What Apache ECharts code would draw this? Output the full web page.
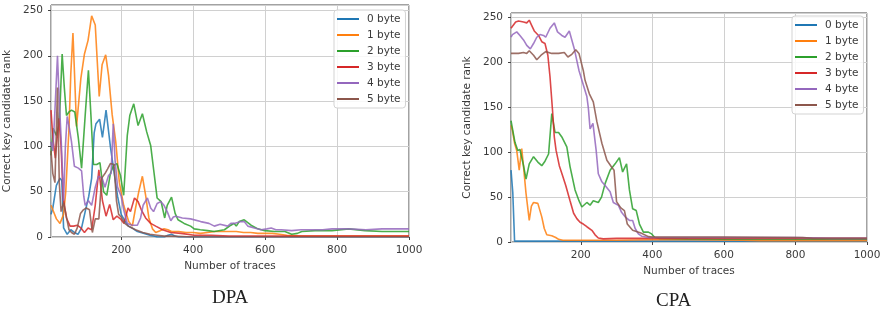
<!DOCTYPE html>
<html>
<head>
<meta charset="utf-8">
<script src="https://cdn.jsdelivr.net/npm/echarts@6/dist/echarts.min.js"></script>
<style>
  html, body { margin: 0; padding: 0; background: #fff; }
  #main { width: 884px; height: 323px; }
</style>
</head>
<body>
<div id="main"></div>
<script>
// series names and colours (matplotlib tab10)
var names = ['0 byte', '1 byte', '2 byte', '3 byte', '4 byte', '5 byte'];
var colors = ['#1f77b4', '#ff7f0e', '#2ca02c', '#d62728', '#9467bd', '#8c564b'];
var xTicks = [200, 400, 600, 800, 1000];
var yTicks = [0, 50, 100, 150, 200, 250];

// DPA: [number of traces, rank]
var dpa0 = [[5,25],[10,32],[20,57],[30,65],[35,62],[40,10],[50,3],[60,8],[70,5],[80,3],[90,10],[100,28],[110,45],[118,65],[125,115],[130,125],[140,130],[148,110],[158,140],[170,100],[180,72],[190,45],[200,25],[210,18],[220,12],[230,10],[245,6],[264,4],[280,2],[291,1],[300,0],[320,0],[330,2],[340,3],[350,1],[360,0],[1000,0]];
var dpa1 = [[5,35],[10,30],[20,20],[30,15],[40,25],[46,50],[55,120],[60,180],[66,225],[76,122],[88,175],[98,202],[108,217],[118,244],[128,234],[139,155],[147,190],[157,201],[165,178],[175,135],[185,105],[195,60],[207,35],[221,17],[231,12],[240,32],[249,50],[259,67],[268,46],[277,21],[287,9],[296,5],[308,7],[319,9],[330,8],[340,6],[360,6],[380,5],[400,5],[420,4],[440,5],[460,6],[480,6],[500,6],[520,6],[540,5],[560,5],[580,4],[600,4],[620,4],[640,3],[660,2],[700,1],[800,1],[1000,1]];
var dpa2 = [[5,90],[11,120],[20,112],[28,125],[36,202],[42,165],[48,134],[55,138],[62,140],[71,138],[81,109],[90,76],[100,134],[109,184],[116,134],[123,80],[132,80],[141,82],[151,50],[160,46],[170,70],[179,79],[188,81],[198,68],[207,46],[217,112],[224,134],[235,147],[247,123],[259,136],[271,116],[282,101],[291,72],[300,43],[311,39],[321,21],[328,35],[340,44],[350,26],[358,19],[375,15],[393,12],[403,9],[420,8],[440,7],[459,6],[487,8],[505,13],[514,15],[520,12],[528,17],[542,19],[561,13],[580,9],[599,7],[627,6],[655,6],[674,3],[690,4],[702,6],[739,7],[786,7],[832,9],[878,7],[925,6],[1000,6]];
var dpa3 = [[5,140],[10,110],[17,87],[27,131],[33,100],[39,43],[48,21],[58,12],[68,12],[78,13],[88,10],[98,5],[108,10],[118,8],[128,35],[138,74],[148,40],[158,23],[168,36],[178,19],[188,23],[198,20],[208,15],[219,32],[226,28],[237,43],[247,39],[256,30],[268,21],[282,15],[296,12],[315,8],[338,5],[366,4],[403,2],[450,2],[500,1],[1000,1]];
var dpa4 = [[5,105],[10,95],[16,140],[23,200],[28,150],[33,110],[40,40],[45,100],[50,133],[56,120],[62,105],[70,78],[81,76],[90,73],[96,45],[100,35],[109,40],[118,35],[128,55],[137,67],[147,65],[155,55],[165,68],[172,70],[178,125],[183,85],[190,55],[200,45],[207,30],[217,15],[231,13],[245,13],[254,21],[261,35],[273,43],[282,32],[290,28],[300,37],[310,39],[319,35],[328,28],[338,18],[345,22],[352,23],[370,21],[393,20],[421,17],[444,15],[459,12],[475,14],[496,12],[505,15],[514,15],[533,17],[542,17],[552,12],[570,10],[589,8],[605,9],[617,10],[630,8],[645,8],[674,7],[700,8],[760,8],[786,9],[832,9],[880,8],[925,9],[1000,9]];
var dpa5 = [[5,95],[10,70],[16,60],[23,165],[28,60],[33,28],[40,38],[48,22],[55,8],[62,5],[70,3],[78,10],[87,26],[95,30],[103,32],[112,30],[120,5],[128,20],[138,20],[146,65],[155,70],[162,75],[170,81],[180,80],[187,40],[193,25],[200,22],[210,15],[220,12],[240,8],[260,5],[280,3],[300,2],[320,1],[340,1],[400,0],[1000,0]];

// CPA
var cpa0 = [[5,80],[10,55],[15,1],[1000,1]];
var cpa1 = [[5,130],[9,124],[15,110],[21,102],[28,80],[35,104],[40,84],[47,54],[56,24],[62,40],[68,44],[80,43],[91,28],[98,15],[105,8],[119,7],[130,5],[138,3],[150,2],[300,2],[400,2.5],[500,2.5],[650,2],[700,1.5],[1000,1.5]];
var cpa2 = [[5,135],[9,135],[16,111],[24,102],[30,103],[40,85],[47,70],[56,87],[68,95],[80,89],[91,85],[100,90],[110,98],[119,143],[128,122],[138,122],[147,117],[161,106],[170,84],[184,58],[195,46],[203,39],[217,44],[226,41],[235,46],[249,44],[258,50],[268,65],[282,80],[296,87],[308,94],[317,78],[328,87],[336,58],[345,37],[355,35],[364,20],[375,11],[389,11],[398,9],[407,5],[420,4],[500,3.5],[600,3],[1000,3]];
var cpa3 = [[5,238],[9,240],[18,245],[26,246],[40,245],[49,244],[56,247],[63,241],[70,235],[82,230],[91,223],[100,221],[108,208],[114,184],[121,147],[126,117],[131,102],[140,85],[149,74],[158,63],[170,46],[180,32],[189,26],[198,22],[207,20],[217,17],[231,13],[240,8],[249,4.5],[263,3.5],[300,4],[1000,4]];
var cpa4 = [[5,228],[9,231],[21,234],[30,230],[40,225],[49,219],[59,215],[68,221],[77,228],[86,231],[96,230],[102,228],[114,238],[126,244],[135,234],[147,230],[156,228],[168,235],[175,225],[182,215],[189,202],[195,191],[207,175],[217,162],[221,150],[226,126],[234,132],[243,102],[249,76],[259,67],[268,63],[282,56],[291,44],[305,41],[314,33],[324,28],[336,24],[345,24],[352,15],[361,9],[370,6.5],[390,5],[800,5],[900,4],[1000,4]];
var cpa5 = [[5,210],[9,212],[26,210],[40,211],[49,210],[56,213],[68,208],[77,203],[89,208],[102,212],[119,210],[138,210],[154,211],[164,206],[175,209],[186,214],[195,210],[207,191],[212,180],[224,165],[235,156],[245,134],[259,110],[273,91],[287,83],[293,80],[300,45],[312,38],[322,35],[330,20],[345,13],[368,10],[389,6],[400,5.5],[600,5.5],[820,5],[850,4],[1000,4]];

var dpaData = [dpa0, dpa1, dpa2, dpa3, dpa4, dpa5];
var cpaData = [cpa0, cpa1, cpa2, cpa3, cpa4, cpa5];

var chart = echarts.init(document.getElementById('main'), null, {renderer: 'canvas'});

var font = 'DejaVu Sans';
var txt = '#3a3a3a';

function xAxisCfg(idx) {
    return {
        type: 'value', gridIndex: idx, min: 5, max: 1000, splitNumber: 5,
        name: 'Number of traces', nameLocation: 'middle', nameGap: idx === 0 ? 23 : 22,
        nameTextStyle: {fontFamily: font, fontSize: 10.5, color: txt},
        axisLine: {show: false},
        axisTick: {show: true, length: 3, lineStyle: {color: '#444'}},
        axisLabel: {fontFamily: font, fontSize: 10.5, color: txt, margin: 8, showMinLabel: false,
            formatter: function (v) { return String(v); }},
        splitLine: {show: true, lineStyle: {color: '#d0d0d0', width: 1}}
    };
}
function yAxisCfg(idx, max) {
    return {
        type: 'value', gridIndex: idx, min: 0, max: max, interval: 50,
        name: 'Correct key candidate rank', nameLocation: 'middle', nameGap: 38,
        nameTextStyle: {fontFamily: font, fontSize: 10.5, color: txt},
        axisLine: {show: false},
        axisTick: {show: true, length: 3, lineStyle: {color: '#444'}},
        axisLabel: {fontFamily: font, fontSize: 10.5, color: txt, margin: 8, showMaxLabel: false},
        splitLine: {show: true, lineStyle: {color: '#d0d0d0', width: 1}}
    };
}
function legendCfg(left, top) {
    return {
        data: names, orient: 'vertical', left: left, top: top,
        icon: 'rect', itemWidth: 22, itemHeight: 2, itemGap: 4,
        padding: [3, 5, 3, 3],
        backgroundColor: 'rgba(255,255,255,0.85)',
        borderColor: '#d3d3d3', borderWidth: 1, borderRadius: 3,
        textStyle: {fontFamily: font, fontSize: 10.5, color: txt, lineHeight: 12, padding: [0, 0, 0, 3]}
    };
}

var series = [];
for (var i = 0; i < 6; i++) {
    series.push({name: names[i], type: 'line', xAxisIndex: 0, yAxisIndex: 0, data: dpaData[i],
        showSymbol: false, color: colors[i], lineStyle: {width: 1.6, opacity: 0.85}});
    series.push({name: names[i], type: 'line', xAxisIndex: 1, yAxisIndex: 1, data: cpaData[i],
        showSymbol: false, color: colors[i], lineStyle: {width: 1.6, opacity: 0.85}});
}

var option = {
    animation: false,
    backgroundColor: '#fff',
    grid: [
        {left: 51, top: 5, width: 358, height: 232, show: true, borderColor: '#444', borderWidth: 1},
        {left: 511, top: 13, width: 356, height: 229, show: true, borderColor: '#444', borderWidth: 1}
    ],
    xAxis: [xAxisCfg(0), xAxisCfg(1)],
    yAxis: [yAxisCfg(0, 256), yAxisCfg(1, 255)],
    legend: [legendCfg(334, 10), legendCfg(792, 16)],
    graphic: [
        {type: 'text', left: 212, top: 289, style: {text: 'DPA', font: '19px "Liberation Serif"', fill: '#222'}},
        {type: 'text', left: 656, top: 292, style: {text: 'CPA', font: '19px "Liberation Serif"', fill: '#222'}}
    ],
    series: series
};
chart.setOption(option);
</script>
</body>
</html>
